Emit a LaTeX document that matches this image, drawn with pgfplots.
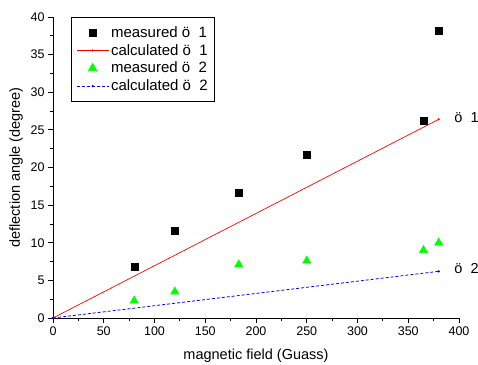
\documentclass[border=0pt]{standalone}
\usepackage{pgfplots}
\pgfplotsset{compat=1.18}
\usepackage{fontspec}
\setmainfont{Liberation Sans}
\pgfplotsset{
  mylegend/.style={legend image code/.code={%
    \draw[mark repeat=2,mark phase=2,##1] plot coordinates {(0bp,0bp) (16bp,0bp) (32bp,0bp)};}},
}
\begin{document}
\begin{tikzpicture}
\begin{axis}[name=ax, scale only axis, width=406bp, height=301bp,
  xmin=0, xmax=400, ymin=0, ymax=40, clip=false,
  axis x line=bottom, axis y line=left,
  axis line style={-, line width=0.8pt},
  xtick distance=50, ytick distance=5,
  minor x tick num=1, minor y tick num=1,
  tick align=outside, major tick length=5bp, minor tick length=3bp,
  tick style={black, line width=0.8pt},
  /pgf/number format/assume math mode=true,
  ticklabel style={font=\fontsize{12.5bp}{14bp}\selectfont},
  xlabel={magnetic field (Guass)}, ylabel={deflection angle (degree)},
  xlabel style={font=\fontsize{14.5bp}{17bp}\selectfont, at={(axis description cs:0.5,-0.126)}, anchor=center},
  ylabel style={font=\fontsize{14.5bp}{17bp}\selectfont, at={(axis description cs:-0.091,0.5)}, anchor=center},
  legend style={at={(0.044,1)}, anchor=north west, draw=black, line width=0.8pt,
    font=\fontsize{15bp}{17bp}\selectfont, inner xsep=5bp, inner ysep=7bp, row sep=1.5bp},
  legend cell align=left,
]
\addplot[only marks, mark=square*, mark size=3.5bp, black, mylegend] coordinates {
 (80,6.8) (120,11.6) (183,16.7) (250,21.7) (365,26.2) (380,38.2)};
\addlegendentry{measured ö~~1}
\addplot[red, line width=0.7pt, mark=*, mark size=0.7pt, mylegend] coordinates {(0,0) (380,26.4)};
\addlegendentry{calculated ö~~1}
\addplot[only marks, mark=triangle*, mark size=4.8bp, color={rgb,255:red,0;green,255;blue,0}, mylegend] coordinates {
 (80,2.3) (120,3.5) (183,7.1) (250,7.6) (365,9.0) (380,10.0)};
\addlegendentry{measured ö~~2}
\addplot[blue, line width=0.8pt, dash pattern=on 3bp off 2bp, mark=*, mark size=0.7pt, mark options={solid}, mylegend] coordinates {(0,0) (380,6.2)};
\addlegendentry{calculated ö~~2}
\node[anchor=west, font=\fontsize{14.5bp}{17bp}\selectfont] at (axis cs:392,26.7) {ö~~1};
\node[anchor=west, font=\fontsize{14.5bp}{17bp}\selectfont] at (axis cs:392,6.6) {ö~~2};
\end{axis}
\pgfresetboundingbox
\path ([shift={(-53bp,-47bp)}]ax.south west) rectangle ([shift={(19bp,17bp)}]ax.north east);
\end{tikzpicture}
\end{document}
